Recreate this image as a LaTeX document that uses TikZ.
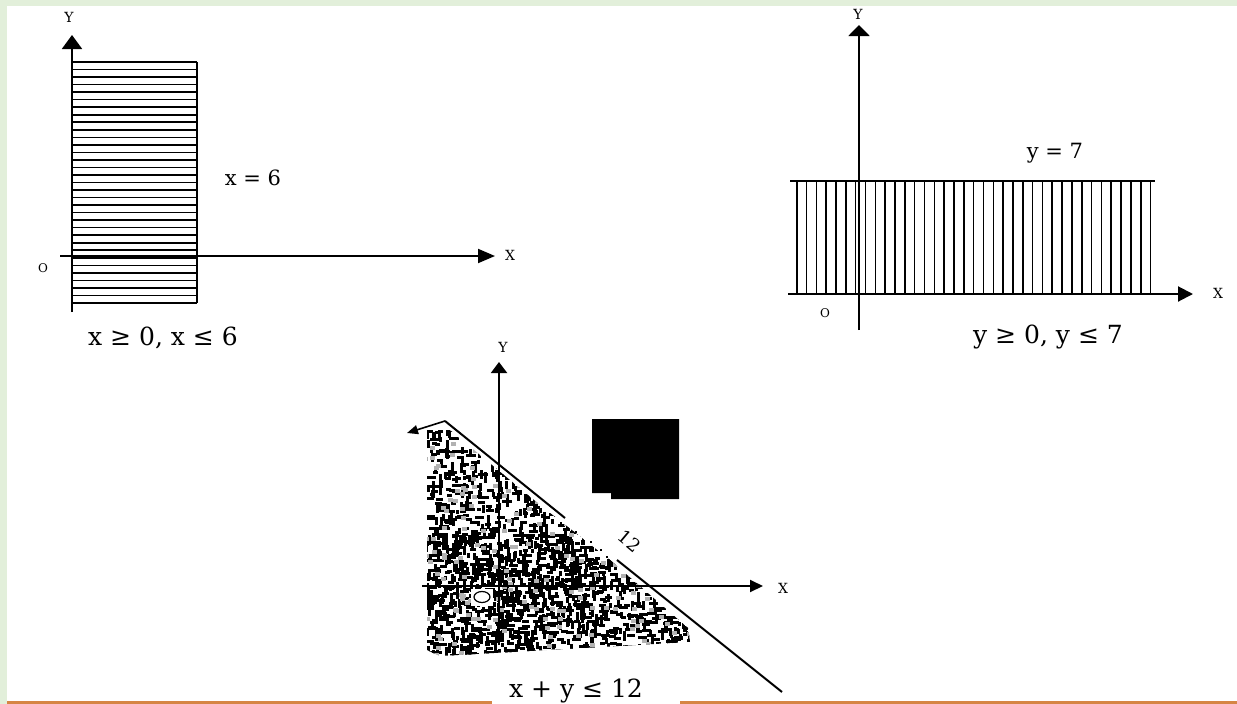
\documentclass[tikz,border=0pt]{standalone}
\usepackage{fontspec}
\setmainfont{DejaVu Serif}
\usetikzlibrary{arrows.meta}
\definecolor{bggreen}{RGB}{226,239,218}
\definecolor{rulecol}{RGB}{214,133,68}
\begin{document}
\begin{tikzpicture}[x=1pt,y=-1pt,
  axis/.style={line width=2pt},
  hatch/.style={line width=1.6pt},
  lbl/.style={inner sep=0pt, font=\fontsize{14}{16}\selectfont},
  orig/.style={inner sep=0pt, font=\fontsize{12}{14}\selectfont},
  big/.style={inner sep=0pt, font=\fontsize{25}{29}\selectfont},
  mid/.style={inner sep=0pt, font=\fontsize{21}{24}\selectfont}]
\useasboundingbox (0,0) rectangle (1237,704);
\fill[bggreen] (0,0) rectangle (1237,704);
\fill[white] (7,6) rectangle (1237,704);
% bottom rule
\coordinate (r1) at (7,702.5); \coordinate (r2) at (492,702.5);
\coordinate (r3) at (680,702.5); \coordinate (r4) at (1237,702.5);
\draw[rulecol, line width=3pt] (r1) -- (r2);
\draw[rulecol, line width=3pt] (r3) -- (r4);

% ---------- panel 1 ----------
\foreach \i in {0,...,32} \draw[hatch] (72,{62+\i*7.53}) -- (197,{62+\i*7.53});
\coordinate (p1a) at (197,62); \coordinate (p1b) at (197,303);
\draw[hatch] (p1a) -- (p1b);
\coordinate (y1b) at (72,312); \coordinate (y1t) at (72,35);
\draw[axis, -{Triangle[width=20pt,length=14pt]}] (y1b) -- (y1t);
\coordinate (x1l) at (60,256); \coordinate (x1r) at (495,256);
\draw[axis, -{Triangle[width=14pt,length=17pt]}] (x1l) -- (x1r);
\node[lbl] (Y1) at (69,17) {Y};
\node[lbl] (X1) at (510,255) {X};
\node[orig] (O1) at (43,268) {O};
\node[mid] (eq1) at (253,178) {x = 6};
\node[big] (in1) at (163,338) {x ≥ 0, x ≤ 6};

% ---------- panel 2 ----------
\foreach \i in {0,...,36} \draw[hatch] ({796.7+\i*9.83},181) -- ({796.7+\i*9.83},294);
\coordinate (t2a) at (790,181); \coordinate (t2b) at (1155,181);
\draw[hatch, line width=1.8pt] (t2a) -- (t2b);
\coordinate (x2l) at (788,294); \coordinate (x2r) at (1193,294);
\draw[axis, -{Triangle[width=15pt,length=15pt]}] (x2l) -- (x2r);
\coordinate (y2b) at (859,330); \coordinate (y2t) at (859,25);
\draw[axis, -{Triangle[width=21pt,length=11pt]}] (y2b) -- (y2t);
\node[lbl] (Y2) at (858,14) {Y};
\node[lbl] (X2) at (1218,293) {X};
\node[orig] (O2) at (825,313) {O};
\node[mid] (eq2) at (1055,153) {y = 7};
\node[big] (in2) at (1048,337) {y ≥ 0, y ≤ 7};

% ---------- panel 3 ----------
\begin{scope}
\clip (427,430) -- (450,430) -- (540,505) -- (610,560) -- (688,628) -- (690,642) -- (440,656) -- (427,650) -- cycle;
\pgfmathsetseed{12}
\foreach \i in {1,...,1900}{
  \pgfmathsetmacro\rx{423+270*rnd}
  \pgfmathsetmacro\ry{426+232*rnd}
  \pgfmathsetmacro\len{4+6*rnd}
  \pgfmathsetmacro\dir{rnd}
  \pgfmathsetmacro\rw{\dir<0.5 ? \len : 3}
  \pgfmathsetmacro\rh{\dir<0.5 ? 3 : \len}
  \fill (\rx,\ry) rectangle ++(\rw,\rh);
}
\foreach \i in {1,...,350}{
  \pgfmathsetmacro\rx{423+190*rnd}
  \pgfmathsetmacro\ry{530+128*rnd}
  \pgfmathsetmacro\len{4+6*rnd}
  \pgfmathsetmacro\dir{rnd}
  \pgfmathsetmacro\rw{\dir<0.5 ? \len : 3}
  \pgfmathsetmacro\rh{\dir<0.5 ? 3 : \len}
  \fill (\rx,\ry) rectangle ++(\rw,\rh);
}
\foreach \i in {1,...,250}{
  \pgfmathsetmacro\rx{423+270*rnd}
  \pgfmathsetmacro\ry{426+232*rnd}
  \fill[gray!60] (\rx,\ry) rectangle ++(5,4);
}
\end{scope}
% a few loose specks near the gap
\foreach \p in {(560,522),(575,531),(590,541),(600,549),(596,560),(606,556),(570,540)}
  \fill \p rectangle ++(2,2);
\fill[white] (471,589) rectangle (493,606);
\draw[line width=1.2pt, fill=white] (482,597) ellipse [x radius=8pt, y radius=5.5pt];
\coordinate (y3b) at (499,645); \coordinate (y3t) at (499,362);
\draw[axis, -{Triangle[width=16pt,length=11pt]}] (y3b) -- (y3t);
\coordinate (x3l) at (422,586); \coordinate (x3r) at (763,586);
\draw[axis, -{Triangle[width=12pt,length=13pt]}] (x3l) -- (x3r);
\node[lbl] (Y3) at (503,347) {Y};
\node[lbl] (X3) at (783,588) {X};
\coordinate (d1) at (445,421); \coordinate (d2) at (565,518);
\coordinate (d3) at (617,560); \coordinate (d4) at (782,692);
\coordinate (da) at (407,433);
\draw[line width=2pt] (d1) -- (d2);
\draw[line width=2pt] (d3) -- (d4);
\draw[line width=1.6pt, -{Triangle[width=9pt,length=11pt]}] (d1) -- (da);
\node[inner sep=0pt, rotate=-40, font=\fontsize{18}{20}\selectfont] (twelve) at (630,541) {12};
\fill (592,419) -- (679,419) -- (679,499) -- (611,499) -- (611,493) -- (592,493) -- cycle;
\node[big, anchor=base] (in3) at (576,697) {x + y ≤ 12};
\end{tikzpicture}
\end{document}
